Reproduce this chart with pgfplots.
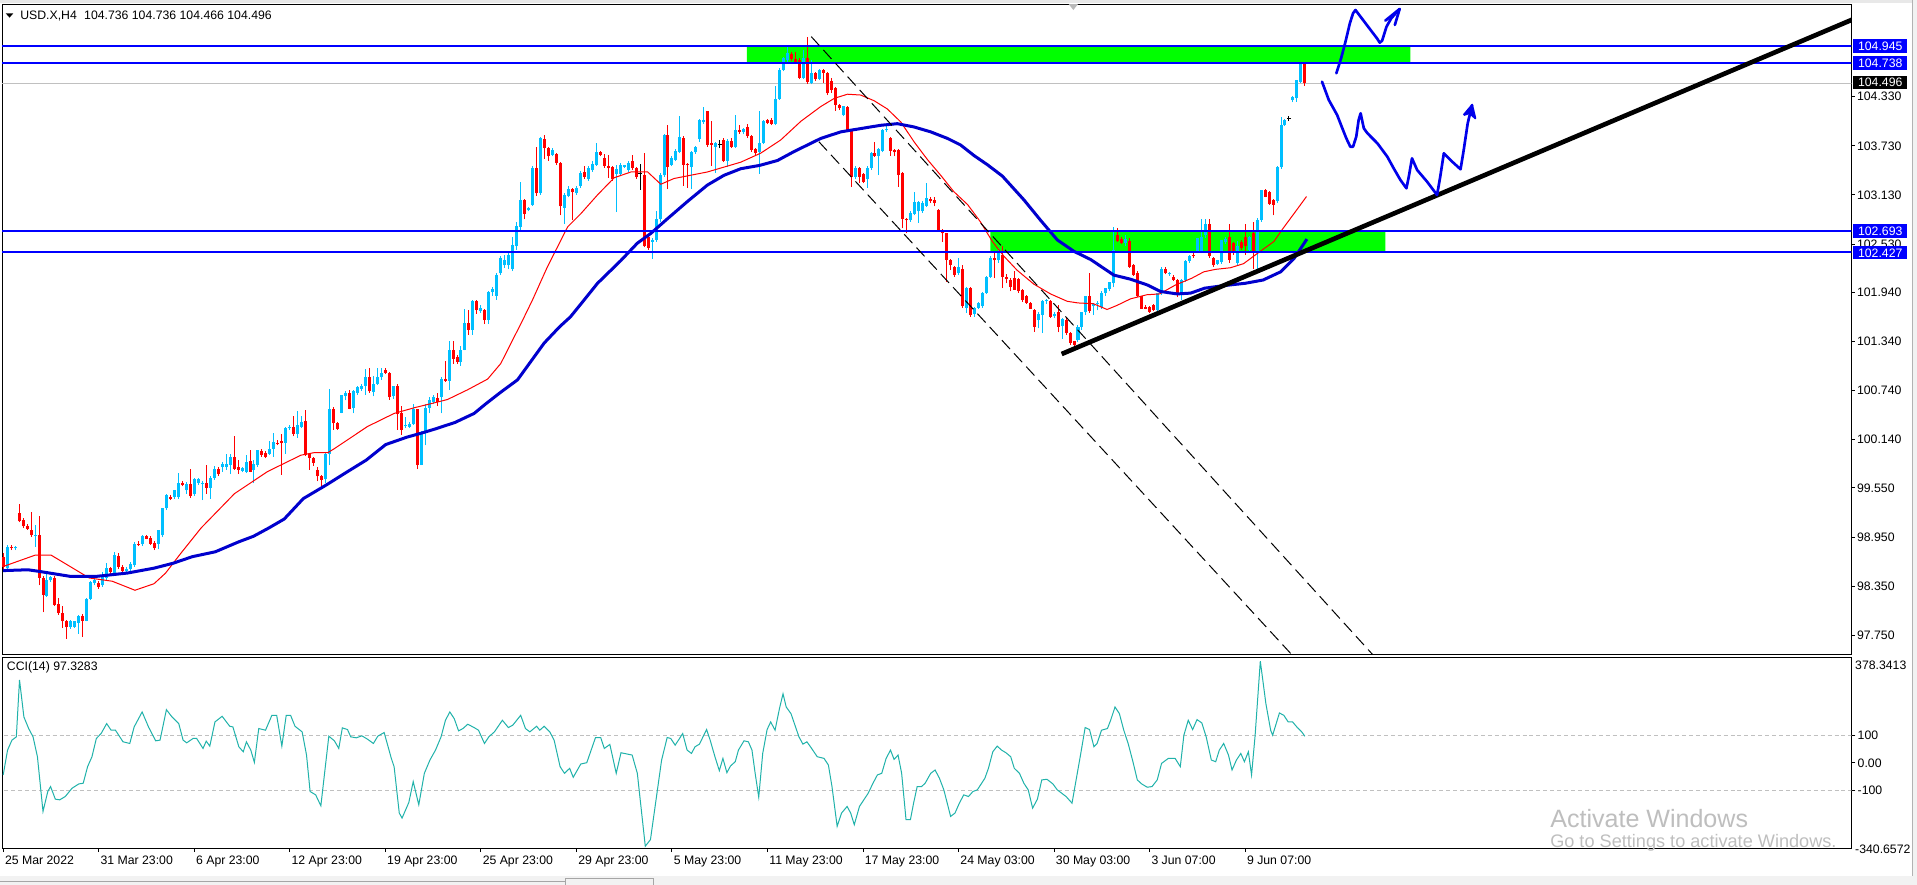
\documentclass[border=0pt]{standalone}
\usepackage{fontspec}
\setmainfont{Liberation Sans}
\usepackage{pgfplots}
\usepackage{pgfplotstable}
\pgfplotsset{compat=1.18}
\definecolor{upc}{RGB}{0,191,255}
\definecolor{dnc}{RGB}{255,0,0}
\definecolor{mablue}{RGB}{0,0,205}
\definecolor{hblue}{RGB}{0,0,255}
\definecolor{zone}{RGB}{0,255,0}
\definecolor{ccic}{RGB}{32,178,170}
\definecolor{lgray}{RGB}{192,192,192}
\definecolor{arrb}{RGB}{0,0,235}
\definecolor{wm}{RGB}{190,190,190}
\newcommand\axf{\fontsize{9.2}{11}\selectfont}

\pgfplotstableread{
i o h l c
0 98.71 98.75 98.55 98.59
1 98.57 98.85 98.55 98.83
2 98.83 98.85 98.79 98.82
3 98.81 98.84 98.79 98.83
4 99.24 99.35 99.13 99.14
5 99.16 99.18 99.06 99.08
6 99.08 99.11 99.04 99.05
7 99.04 99.26 98.95 98.97
8 98.97 99.10 98.83 98.98
9 98.97 99.21 98.36 98.45
10 98.45 98.47 98.03 98.24
11 98.23 98.54 98.22 98.42
12 98.42 98.47 98.40 98.46
13 98.45 98.47 98.11 98.12
14 98.13 98.20 98.00 98.02
15 98.02 98.11 97.84 97.92
16 97.92 97.94 97.71 97.85
17 97.85 97.94 97.83 97.92
18 97.85 97.93 97.84 97.92
19 97.90 98.00 97.77 97.98
20 97.98 98.01 97.73 97.93
21 97.93 98.21 97.92 98.19
22 98.19 98.41 98.18 98.40
23 98.39 98.45 98.36 98.43
24 98.39 98.41 98.32 98.34
25 98.36 98.52 98.34 98.49
26 98.45 98.63 98.43 98.57
27 98.57 98.59 98.49 98.52
28 98.51 98.77 98.49 98.73
29 98.72 98.75 98.56 98.59
30 98.59 98.61 98.50 98.53
31 98.53 98.58 98.51 98.56
32 98.56 98.64 98.54 98.62
33 98.61 98.89 98.59 98.87
34 98.87 98.90 98.84 98.85
35 98.86 98.98 98.84 98.96
36 98.96 98.98 98.92 98.93
37 98.94 98.96 98.85 98.87
38 98.88 98.90 98.79 98.81
39 98.87 99.04 98.80 99.03
40 98.97 99.31 98.95 99.30
41 99.30 99.47 99.28 99.46
42 99.44 99.46 99.40 99.42
43 99.44 99.53 99.42 99.52
44 99.44 99.73 99.42 99.61
45 99.61 99.63 99.57 99.59
46 99.52 99.62 99.48 99.60
47 99.60 99.78 99.43 99.45
48 99.47 99.67 99.45 99.66
49 99.61 99.67 99.59 99.66
50 99.60 99.63 99.40 99.61
51 99.61 99.83 99.48 99.55
52 99.55 99.70 99.42 99.67
53 99.67 99.82 99.65 99.78
54 99.78 99.80 99.70 99.72
55 99.81 99.87 99.75 99.84
56 99.81 99.97 99.77 99.84
57 99.83 99.97 99.72 99.93
58 99.93 100.18 99.77 99.78
59 99.80 99.89 99.72 99.77
60 99.76 99.81 99.74 99.79
61 99.75 99.95 99.73 99.87
62 99.88 100.01 99.74 99.75
63 99.77 99.89 99.61 99.84
64 99.83 100.01 99.81 100.01
65 100.00 100.03 99.93 99.95
66 99.98 100.00 99.91 99.93
67 99.97 100.12 99.95 100.03
68 100.03 100.22 99.93 100.11
69 100.10 100.14 100.07 100.09
70 100.12 100.21 99.71 100.10
71 100.10 100.30 99.97 100.28
72 100.28 100.32 100.26 100.30
73 100.30 100.43 100.18 100.21
74 100.21 100.49 100.16 100.32
75 100.30 100.43 100.28 100.36
76 100.37 100.50 99.94 99.95
77 99.96 99.97 99.77 99.92
78 99.92 99.93 99.82 99.86
79 99.77 99.81 99.63 99.69
80 99.70 99.71 99.57 99.65
81 99.66 99.99 99.61 99.97
82 99.97 100.76 99.83 100.52
83 100.52 100.54 100.26 100.34
84 100.34 100.36 100.26 100.27
85 100.47 100.69 100.46 100.68
86 100.67 100.73 100.62 100.71
87 100.71 100.75 100.51 100.52
88 100.53 100.75 100.46 100.73
89 100.71 100.80 100.69 100.78
90 100.76 100.82 100.74 100.80
91 100.80 101.00 100.69 100.90
92 100.90 101.01 100.71 100.73
93 100.72 100.92 100.67 100.82
94 100.82 101.01 100.81 100.91
95 100.90 101.01 100.87 100.96
96 100.99 101.02 100.94 100.96
97 100.96 100.97 100.63 100.66
98 100.67 100.80 100.64 100.79
99 100.79 100.82 100.26 100.45
100 100.46 100.55 100.20 100.26
101 100.31 100.42 100.28 100.32
102 100.30 100.35 100.28 100.33
103 100.33 100.58 100.32 100.52
104 100.51 100.52 99.78 99.83
105 99.83 100.24 99.83 100.22
106 100.22 100.58 100.07 100.53
107 100.53 100.66 100.46 100.62
108 100.60 100.68 100.58 100.66
109 100.65 100.71 100.55 100.60
110 100.66 100.91 100.46 100.88
111 100.88 101.10 100.85 100.86
112 100.86 101.34 100.75 101.24
113 101.24 101.34 101.07 101.13
114 101.15 101.17 101.07 101.09
115 101.09 101.28 101.04 101.24
116 101.24 101.73 101.23 101.56
117 101.56 101.72 101.42 101.48
118 101.48 101.85 101.42 101.83
119 101.83 101.85 101.68 101.72
120 101.71 101.78 101.69 101.75
121 101.72 101.73 101.55 101.60
122 101.60 101.96 101.55 101.94
123 101.94 102.00 101.90 101.98
124 101.90 102.18 101.85 102.15
125 102.17 102.38 102.15 102.36
126 102.27 102.40 102.24 102.34
127 102.27 102.43 102.22 102.40
128 102.23 102.62 102.20 102.52
129 102.50 102.80 102.46 102.75
130 102.74 103.29 102.70 103.07
131 103.07 103.08 102.83 102.90
132 102.94 102.98 102.93 102.97
133 103.01 103.48 103.00 103.46
134 103.46 103.72 103.12 103.15
135 103.15 103.84 103.13 103.82
136 103.81 103.86 103.57 103.70
137 103.70 103.71 103.55 103.60
138 103.62 103.70 103.60 103.68
139 103.63 103.64 103.50 103.52
140 103.52 103.53 102.88 102.99
141 102.97 103.15 102.78 103.13
142 103.12 103.24 103.10 103.20
143 103.20 103.22 102.82 103.16
144 103.15 103.24 103.13 103.22
145 103.24 103.42 103.22 103.40
146 103.41 103.48 103.33 103.35
147 103.33 103.48 103.30 103.46
148 103.43 103.54 103.41 103.51
149 103.50 103.76 103.48 103.66
150 103.65 103.67 103.60 103.62
151 103.58 103.63 103.46 103.48
152 103.48 103.62 103.34 103.46
153 103.47 103.48 103.30 103.33
154 103.39 103.50 102.92 103.45
155 103.39 103.52 103.37 103.50
156 103.47 103.50 103.46 103.49
157 103.43 103.55 103.41 103.52
158 103.54 103.62 103.44 103.46
159 103.46 103.47 103.33 103.35
160 103.39 103.51 103.19 103.39
161 103.37 103.64 102.49 102.50
162 102.62 102.64 102.46 102.48
163 102.56 102.60 102.35 102.58
164 102.58 102.93 102.56 102.83
165 102.83 103.40 102.80 103.37
166 103.37 103.88 103.35 103.86
167 103.86 103.98 103.20 103.47
168 103.50 103.60 103.48 103.58
169 103.56 103.69 103.54 103.67
170 103.66 104.09 103.64 103.84
171 103.83 103.85 103.24 103.50
172 103.51 103.52 103.22 103.49
173 103.47 103.67 103.20 103.65
174 103.65 103.73 103.63 103.71
175 103.81 104.06 103.78 104.04
176 104.02 104.20 104.00 104.05
177 104.15 104.16 103.72 103.74
178 103.77 104.03 103.48 103.74
179 103.72 103.78 103.40 103.76
180 103.74 103.80 103.70 103.74
181 103.80 103.82 103.53 103.55
182 103.55 103.81 103.47 103.79
183 103.79 103.82 103.70 103.72
184 103.72 104.10 103.70 103.92
185 103.92 103.98 103.88 103.90
186 103.90 103.95 103.87 103.93
187 103.96 103.99 103.83 103.85
188 103.85 103.86 103.66 103.68
189 103.69 103.70 103.62 103.64
190 103.66 104.16 103.39 103.77
191 103.77 104.05 103.75 104.03
192 104.05 104.06 103.99 104.01
193 104.05 104.07 103.98 104.00
194 104.00 104.46 103.98 104.30
195 104.30 104.68 104.29 104.66
196 104.66 104.82 104.64 104.80
197 104.78 104.95 104.75 104.86
198 104.85 104.88 104.77 104.79
199 104.79 104.88 104.73 104.75
200 104.78 104.80 104.54 104.56
201 104.56 104.90 104.54 104.80
202 104.80 105.06 104.49 104.51
203 104.50 104.78 104.48 104.62
204 104.62 104.63 104.52 104.54
205 104.55 104.67 104.53 104.66
206 104.66 104.67 104.50 104.62
207 104.62 104.63 104.35 104.37
208 104.52 104.56 104.38 104.41
209 104.43 104.45 104.16 104.23
210 104.23 104.24 104.17 104.19
211 104.11 104.22 104.09 104.21
212 104.20 104.21 103.90 103.92
213 103.92 103.93 103.23 103.35
214 103.35 103.48 103.32 103.46
215 103.46 103.47 103.28 103.35
216 103.39 103.40 103.27 103.29
217 103.33 103.48 103.22 103.46
218 103.46 103.66 103.44 103.64
219 103.64 103.78 103.59 103.61
220 103.61 103.70 103.37 103.69
221 103.67 103.93 103.65 103.92
222 103.92 103.97 103.90 103.94
223 103.83 103.84 103.61 103.67
224 103.68 103.69 103.60 103.65
225 103.68 103.69 103.23 103.37
226 103.40 103.41 102.72 102.84
227 102.84 102.85 102.66 102.82
228 102.82 102.93 102.80 102.91
229 102.90 103.16 102.88 103.04
230 102.93 103.05 102.79 103.04
231 102.93 103.05 102.91 103.03
232 103.00 103.28 102.98 103.09
233 103.08 103.10 103.03 103.05
234 103.07 103.11 102.99 103.03
235 102.95 102.96 102.68 102.70
236 102.70 102.71 102.56 102.66
237 102.66 102.67 102.07 102.34
238 102.34 102.35 102.21 102.27
239 102.25 102.26 102.13 102.15
240 102.17 102.36 102.15 102.25
241 102.22 102.27 101.75 101.77
242 101.75 102.01 101.69 101.99
243 101.99 102.00 101.64 101.66
244 101.68 101.76 101.64 101.75
245 101.75 101.82 101.74 101.81
246 101.77 101.94 101.75 101.93
247 101.93 102.14 101.92 102.13
248 102.13 102.38 102.12 102.36
249 102.36 102.42 102.11 102.33
250 102.33 102.48 102.30 102.44
251 102.40 102.50 101.99 102.13
252 102.13 102.16 102.05 102.10
253 102.09 102.12 101.95 102.01
254 102.11 102.20 101.97 101.97
255 102.10 102.12 101.93 101.95
256 101.97 101.98 101.82 101.85
257 101.90 101.91 101.80 101.81
258 101.81 101.82 101.74 101.74
259 101.72 101.73 101.46 101.52
260 101.60 101.70 101.50 101.68
261 101.66 101.84 101.44 101.83
262 101.83 101.86 101.80 101.84
263 101.83 101.85 101.63 101.64
264 101.65 101.70 101.62 101.67
265 101.70 101.78 101.45 101.52
266 101.53 101.62 101.37 101.61
267 101.60 101.63 101.42 101.44
268 101.44 101.45 101.30 101.32
269 101.34 101.35 101.27 101.30
270 101.36 101.54 101.33 101.52
271 101.52 101.70 101.48 101.70
272 101.70 101.89 101.66 101.89
273 101.89 102.18 101.69 101.71
274 101.77 101.81 101.66 101.80
275 101.80 101.83 101.72 101.81
276 101.76 101.95 101.74 101.93
277 101.93 101.99 101.90 101.99
278 101.98 102.07 101.95 102.06
279 102.05 102.74 102.00 102.46
280 102.64 102.73 102.56 102.57
281 102.59 102.61 102.53 102.54
282 102.54 102.64 102.50 102.59
283 102.57 102.60 102.24 102.25
284 102.27 102.28 102.14 102.15
285 102.18 102.20 101.88 101.89
286 101.89 101.90 101.74 101.74
287 101.76 101.78 101.73 101.74
288 101.76 101.77 101.69 101.70
289 101.79 101.80 101.71 101.72
290 101.72 101.93 101.70 101.93
291 101.93 102.25 101.91 102.23
292 102.22 102.25 102.16 102.17
293 102.16 102.19 102.14 102.18
294 102.13 102.15 102.08 102.09
295 102.09 102.10 101.88 101.93
296 101.93 102.10 101.85 102.09
297 102.09 102.34 102.07 102.32
298 102.32 102.40 102.30 102.38
299 102.40 102.43 102.36 102.38
300 102.44 102.60 102.42 102.60
301 102.44 102.83 102.42 102.62
302 102.64 102.83 102.60 102.78
303 102.78 102.83 102.36 102.38
304 102.36 102.37 102.25 102.27
305 102.29 102.33 102.27 102.33
306 102.31 102.58 102.29 102.58
307 102.55 102.61 102.53 102.59
308 102.62 102.78 102.30 102.34
309 102.54 102.56 102.40 102.42
310 102.30 102.57 102.27 102.50
311 102.56 102.58 102.46 102.48
312 102.62 102.78 102.40 102.50
313 102.46 102.63 102.43 102.61
314 102.66 102.80 102.23 102.44
315 102.44 102.85 102.23 102.82
316 102.82 103.19 102.80 103.19
317 103.19 103.20 103.10 103.11
318 103.16 103.18 103.01 103.02
319 103.07 103.08 102.88 103.01
320 103.05 103.48 103.03 103.47
321 103.47 104.08 103.45 103.98
322 103.98 104.06 103.97 104.04
323 104.06 104.09 104.03 104.06
324 104.29 104.34 104.26 104.33
325 104.31 104.53 104.27 104.53
326 104.51 104.75 104.50 104.745
327 104.736 104.736 104.466 104.496
}\candles

\begin{document}
\begin{tikzpicture}
\path[use as bounding box, fill=white] (0,0) rectangle (1437.75pt,-663.75pt);
% window chrome
\fill[gray!18] (0,0) rectangle (1437.75pt,-2.2pt);
\fill[gray!10] (1434pt,0) rectangle (1437.75pt,-663.75pt);
\draw[gray!60, line width=0.75pt] (1434.4pt,0) -- (1434.4pt,-657pt);
\fill[gray!10] (0,-657pt) rectangle (1437.75pt,-663.75pt);
\draw[gray!70, line width=0.75pt] (0,-661.3pt) -- (424pt,-661.3pt);
\draw[gray!70, line width=0.75pt] (424pt,-663.75pt) -- (424pt,-659pt) -- (490pt,-659pt) -- (490pt,-663.75pt);

\begin{axis}[
  at={(1.5pt,-490.5pt)}, anchor=south west,
  width=1387.1pt, height=486.75pt, scale only axis,
  xmin=-0.3, xmax=464.3, ymin=97.521, ymax=105.450,
  xtick=\empty,
  ytick={97.75,98.35,98.95,99.55,100.14,100.74,101.34,101.94,102.53,103.13,103.73,104.33},
  yticklabels={97.750,98.350,98.950,99.550,100.140,100.740,101.340,101.940,102.530,103.130,103.730,104.330},
  ytick pos=right, yticklabel pos=right,
  tick align=outside, major tick length=2.5pt,
  tick style={black, line width=0.75pt},
  yticklabel style={font=\axf, anchor=west, inner sep=0pt, xshift=1.5pt},
  axis line style={black, line width=0.75pt},
  scaled y ticks=false,
]
% zones
\addplot[fill=zone, draw=none] coordinates {(186.8,104.738) (353.5,104.738) (353.5,104.945) (186.8,104.945) (186.8,104.738)};
\addplot[fill=zone, draw=none] coordinates {(248.0,102.427) (347.2,102.427) (347.2,102.693) (248.0,102.693) (248.0,102.427)};
% bid line
\addplot[lgray, line width=0.75pt] coordinates {(-5,104.496) (470,104.496)};

% candles: up
\addplot[draw=none, mark=none, forget plot,
  restrict expr to domain={\thisrow{c}-\thisrow{o}}{0.00001:100},
  error bars/.cd, y dir=plus, y explicit, error mark=none,
  error bar style={draw=upc, line width=0.75pt}]
  table[x=i, y=l, y error plus expr={\thisrow{h}-\thisrow{l}}] {\candles};
\addplot[draw=none, mark=none, forget plot,
  restrict expr to domain={\thisrow{c}-\thisrow{o}}{0.00001:100},
  error bars/.cd, y dir=plus, y explicit, error mark=none,
  error bar style={draw=upc, line width=2.25pt}]
  table[x=i, y=o, y error plus expr={\thisrow{c}-\thisrow{o}}] {\candles};
% candles: down
\addplot[draw=none, mark=none, forget plot,
  restrict expr to domain={\thisrow{c}-\thisrow{o}}{-100:-0.00001},
  error bars/.cd, y dir=plus, y explicit, error mark=none,
  error bar style={draw=dnc, line width=0.75pt}]
  table[x=i, y=l, y error plus expr={\thisrow{h}-\thisrow{l}}] {\candles};
\addplot[draw=none, mark=none, forget plot,
  restrict expr to domain={\thisrow{c}-\thisrow{o}}{-100:-0.00001},
  error bars/.cd, y dir=plus, y explicit, error mark=none,
  error bar style={draw=dnc, line width=2.25pt}]
  table[x=i, y=c, y error plus expr={\thisrow{o}-\thisrow{c}}] {\candles};
% doji
\addplot[draw=none, mark=none, forget plot,
  restrict expr to domain={\thisrow{c}-\thisrow{o}}{-0.000001:0.000001},
  error bars/.cd, y dir=plus, y explicit, error mark=none,
  error bar style={draw=black, line width=0.75pt}]
  table[x=i, y=l, y error plus expr={\thisrow{h}-\thisrow{l}}] {\candles};
\addplot[only marks, mark=-, mark size=1.6pt, mark options={black, line width=0.75pt}, forget plot,
  restrict expr to domain={\thisrow{c}-\thisrow{o}}{-0.000001:0.000001}]
  table[x=i, y=o] {\candles};

% red MA
\addplot[dnc, line width=0.75pt] coordinates {
(0,98.59) (8.1,98.73) (12,98.73) (21.6,98.45) (27.4,98.41) (33.1,98.30) (37.9,98.38) (40.8,98.51) (44.6,98.75) (49.7,99.06) (58.1,99.48) (66.4,99.75) (74.8,99.95) (78,99.98) (81.5,99.98) (83.2,100.03) (91.5,100.30) (98.2,100.46) (103.3,100.53) (107.5,100.58) (111.6,100.63) (116.7,100.75) (121.7,100.88) (125,101.07) (130.5,101.60) (133,101.85) (136.7,102.25) (141.8,102.74) (145.1,102.90) (149.3,103.13) (153.5,103.34) (157.7,103.41) (161.9,103.41) (165.2,103.26) (168.5,103.33) (172.7,103.37) (176.9,103.41) (181.1,103.47) (185.3,103.53) (190.3,103.64) (195.3,103.80) (200.4,104.03) (205.4,104.21) (208.8,104.31) (212.1,104.36) (215.4,104.35) (218.8,104.28) (222.1,104.18) (225.5,104.02) (228.8,103.78) (232.2,103.56) (235.5,103.37) (238.8,103.17) (242.3,103.01) (245.5,102.80) (248.5,102.56) (251.4,102.38) (254.7,102.21) (258.9,102.04) (263.1,101.92) (267.3,101.83) (270,101.81) (273.9,101.80) (277.3,101.73) (279.8,101.78) (283.2,101.86) (287.3,101.91) (290.5,101.92) (294.5,102.03) (298.5,102.11) (301.6,102.19) (304.5,102.22) (308.3,102.24) (311.6,102.29) (315.2,102.42) (319.2,102.56) (321.5,102.72) (325,102.95) (327.4,103.11)};
% blue MA
\addplot[mablue, line width=2.25pt] coordinates {
(0,98.54) (6.2,98.55) (9.1,98.53) (16.8,98.47) (23.5,98.47) (31.2,98.51) (37.9,98.57) (42.7,98.63) (47.5,98.71) (53.3,98.77) (59.1,98.89) (62.9,98.96) (66.7,99.06) (70.6,99.17) (75.4,99.42) (81.3,99.59) (86.2,99.74) (91.2,99.89) (96.1,100.08) (101.4,100.17) (105.1,100.22) (108.5,100.27) (113.5,100.35) (118.3,100.46) (121.3,100.58) (125,100.72) (129.2,100.87) (135.9,101.32) (139.8,101.52) (142.5,101.64) (145.5,101.82) (149.3,102.05) (155.2,102.33) (159.3,102.54) (162.7,102.66) (166.9,102.84) (171.9,103.05) (176.9,103.25) (181.1,103.37) (185.3,103.45) (190,103.49) (194.5,103.55) (198.7,103.66) (205.4,103.82) (210.4,103.90) (215.4,103.94) (220.4,103.98) (224.6,104.00) (228.8,103.96) (233,103.90) (237.2,103.82) (240.5,103.74) (243.9,103.61) (247.2,103.50) (251,103.36) (256.4,103.07) (260.6,102.82) (264.8,102.58) (269,102.44) (273.2,102.34) (279,102.15) (283.2,102.10) (287.4,102.03) (290.7,101.95) (294.9,101.92) (298.3,101.93) (301.8,101.99) (306.3,102.02) (312,102.05) (316.5,102.09) (320.9,102.19) (324.3,102.355) (327.5,102.59)};

% horizontal levels
\addplot[hblue, line width=1.5pt] coordinates {(-5,104.945) (470,104.945)};
\addplot[hblue, line width=1.5pt] coordinates {(-5,104.738) (470,104.738)};
\addplot[hblue, line width=1.5pt] coordinates {(-5,102.693) (470,102.693)};
\addplot[hblue, line width=1.5pt] coordinates {(-5,102.427) (470,102.427)};

% channel lines
\addplot[black, line width=0.75pt, dash pattern=on 9pt off 4.5pt] coordinates {(203.0,105.063) (350,97.194)};
\addplot[black, line width=0.75pt, dash pattern=on 9pt off 4.5pt] coordinates {(204.9,103.780) (330,97.181)};
% trend line
\addplot[black, line width=3.5pt] coordinates {(265.9,101.186) (466,105.302)};

% hand drawn arrows
\addplot[arrb, line width=2pt, line join=round, line cap=round] coordinates {
(334.9,104.616) (336.1,104.799) (337.2,105.002) (338.3,105.227) (339.1,105.349) (339.7,105.389) (341.6,105.267) (343.5,105.145) (345.1,105.043) (345.8,104.990) (346.4,105.014) (347.5,105.185) (348.7,105.288) (350.8,105.401)};
\addplot[arrb, line width=2pt, line join=round, line cap=round] coordinates {(347.2,105.259) (350.8,105.401) (349.6,105.206)};
\addplot[arrb, line width=2pt, line join=round, line cap=round] coordinates {
(331.3,104.513) (333.0,104.290) (335.1,104.106) (336.4,103.944) (337.4,103.822) (338.4,103.719) (339.1,103.719) (339.9,103.841) (340.5,104.045) (341.0,104.127) (341.8,103.944) (342.7,103.883) (345.2,103.761) (347.7,103.597) (349.3,103.455) (351.0,103.312) (352.5,103.211) (353.1,103.352) (353.9,103.577) (355.2,103.434) (357.7,103.291) (360.2,103.129) (361.0,103.352) (361.9,103.638) (364.0,103.536) (366.1,103.443) (366.9,103.679) (367.9,104.005) (369.0,104.228)};
\addplot[arrb, fill=arrb, line width=1.5pt, line join=round] coordinates {(366.9,104.106) (369.0,104.228) (369.8,104.066) (368.4,104.13) (366.9,104.106)};
\end{axis}

% chart shift marker
\fill[gray!55] (801.5pt,-3pt) -- (808.5pt,-3pt) -- (805pt,-7.5pt) -- cycle;

% header
\fill[black] (4.3pt,-10pt) -- (10pt,-10pt) -- (7.15pt,-13.2pt) -- cycle;
\node[anchor=west, font=\axf, inner sep=0pt] at (15pt,-11.8pt) {USD.X,H4\hspace{0.6em}104.736 104.736 104.466 104.496};

% price boxes
\node[fill=hblue, text=white, anchor=west, font=\axf, inner xsep=3.6pt, inner ysep=0pt, minimum height=10pt] at (1389.75pt,-34.6pt) {104.945};
\node[fill=hblue, text=white, anchor=west, font=\axf, inner xsep=3.6pt, inner ysep=0pt, minimum height=10pt] at (1389.75pt,-47.2pt) {104.738};
\node[fill=black, text=white, anchor=west, font=\axf, inner xsep=3.6pt, inner ysep=0pt, minimum height=10pt] at (1389.75pt,-61.8pt) {104.496};
\node[fill=hblue, text=white, anchor=west, font=\axf, inner xsep=3.6pt, inner ysep=0pt, minimum height=10pt] at (1389.75pt,-173.2pt) {102.693};
\node[fill=hblue, text=white, anchor=west, font=\axf, inner xsep=3.6pt, inner ysep=0pt, minimum height=10pt] at (1389.75pt,-189.6pt) {102.427};

\begin{axis}[
  at={(1.5pt,-636pt)}, anchor=south west,
  width=1387.1pt, height=143.25pt, scale only axis,
  xmin=-0.3, xmax=464.3, ymin=-311.3, ymax=387,
  xtick={0,24,...,312},
  xticklabels={25 Mar 2022,31 Mar 23:00,6 Apr 23:00,12 Apr 23:00,19 Apr 23:00,25 Apr 23:00,29 Apr 23:00,5 May 23:00,11 May 23:00,17 May 23:00,24 May 03:00,30 May 03:00,3 Jun 07:00,9 Jun 07:00},
  ytick={-100,0,100}, yticklabels={-100,0.00,100},
  xtick pos=lower, ytick pos=right, yticklabel pos=right,
  tick align=outside, major tick length=3pt,
  tick style={black, line width=0.75pt},
  xticklabel style={font=\axf, anchor=north west, inner sep=0pt, xshift=1.2pt, yshift=-3pt},
  yticklabel style={font=\axf, anchor=west, inner sep=0pt, xshift=1.5pt},
  axis line style={black, line width=0.75pt},
]
\addplot[lgray, line width=0.75pt, dash pattern=on 3pt off 2.2pt] coordinates {(-5,100) (470,100)};
\addplot[lgray, line width=0.75pt, dash pattern=on 3pt off 2.2pt] coordinates {(-5,-100) (470,-100)};
\addplot[ccic, line width=0.75pt] coordinates {
(0,-44.2) (1.1,46.7) (2.2,83.0) (3.3,95.2) (4.1,303.6) (5.2,167.9) (6.4,125.5) (7.5,95.2) (8.6,22.4) (10,-177.6) (11.2,-104.8) (11.9,-86.7) (13.1,-132.7) (14.2,-135.2) (15.6,-123.0) (17.3,-92.7) (19,-77.0) (20.1,-74.5) (21.2,-13.9) (22.3,22.4) (23.4,89.1) (24.6,107.3) (26,143.6) (27.1,119.4) (28.2,119.4) (30.1,77.0) (31.8,70.9) (32.9,131.5) (34.9,186.1) (36.5,131.5) (38.3,80.6) (39.4,83.0) (41,194.5) (42.4,167.9) (44.1,143.6) (45.2,83.0) (46.1,73.3) (47.7,89.1) (48.6,89.1) (50.2,52.7) (51,79.4) (51.9,61.2) (53.2,149.7) (55,170.3) (56.9,133.9) (57.7,131.5) (59.2,58.8) (60.3,40.6) (61.1,77.0) (62.2,46.7) (63.1,1.8) (64.2,125.5) (65.9,119.4) (67.5,173.9) (68.7,173.9) (70,61.2) (71.1,173.9) (72.2,173.9) (73.3,133.9) (75.1,113.3) (76.2,28.5) (77.1,-104.8) (78.5,-117.0) (79.8,-157.0) (81.8,97.6) (83.2,80.6) (84.3,52.7) (85.2,127.9) (86.5,121.8) (87.3,95.2) (88.7,91.5) (90.1,98.8) (91.5,86.7) (93,70.9) (94.1,97.6) (95.7,110.9) (97.5,16.4) (98.2,-13.9) (99.5,-183.6) (100.2,-201.8) (101.9,-144.8) (103,-68.5) (104.4,-153.3) (105.8,-38.2) (107.2,10.3) (108.6,46.7) (110,95.2) (111.1,155.8) (112.2,186.1) (113.3,161.8) (114.4,117.0) (115.5,125.5) (116.7,141.2) (118.3,129.1) (119.4,119.4) (120.9,70.9) (122,95.2) (123.4,113.3) (125.4,155.8) (126.9,129.1) (128,137.6) (130,173.9) (131.2,125.5) (132.3,113.3) (134,133.9) (134.8,119.4) (135.9,133.9) (137.3,113.3) (138.4,83.0) (139.9,-13.9) (141,-38.2) (142.3,-20.0) (143.2,-52.7) (145.1,-4.2) (146.6,0.6) (148.8,92.7) (150.1,92.7) (151,52.7) (152.4,67.3) (154,-38.2) (155.2,37.0) (158,28.5) (159.3,-38.2) (161.3,-304.8) (162.6,-280.6) (164,-135.2) (165.4,10.3) (166.8,92.7) (167.7,89.1) (168.8,64.8) (169.9,89.1) (170.7,107.3) (171.8,46.7) (172.9,34.5) (173.8,58.8) (174.9,68.5) (175.8,95.2) (176.7,121.8) (177.6,83.0) (178.8,22.4) (179.9,-28.5) (180.8,16.4) (181.8,-35.8) (182.7,-11.5) (183.9,4.2) (184.7,46.7) (186.1,80.6) (187.2,77.0) (188.1,46.7) (188.9,-38.2) (189.8,-125.5) (190.8,34.5) (191.9,121.8) (192.8,149.7) (193.9,119.4) (195,198.2) (195.9,252.7) (196.7,204.2) (197.9,180.0) (198.9,137.6) (199.9,95.2) (200.9,68.5) (201.9,77.0) (202.8,58.8) (204.5,22.4) (206.2,16.4) (207.3,-7.9) (208.2,-86.7) (209.5,-232.1) (210.6,-183.6) (212,-159.4) (212.9,-183.6) (213.8,-226.1) (215.1,-159.4) (216.2,-135.2) (217.3,-110.9) (218.5,-74.5) (219.6,-44.2) (220.7,-38.2) (221.8,16.4) (222.9,46.7) (223.8,12.7) (224.8,28.5) (225.7,-38.2) (226.8,-207.9) (227.9,-207.9) (228.7,-147.3) (229.6,-86.7) (230.7,-86.7) (231.6,-74.5) (233,-38.2) (234.1,-26.1) (235.2,-56.4) (236.3,-98.8) (238,-195.8) (239.1,-183.6) (240.2,-147.3) (241.3,-117.0) (242.5,-123.0) (243.6,-104.8) (244.7,-98.8) (245.8,-74.5) (246.6,-56.4) (247.5,-20.0) (248.6,40.6) (249.7,61.2) (250.8,46.7) (251.9,37.0) (253.1,22.4) (254,-20.0) (255.3,-38.2) (256.4,-74.5) (257.5,-98.8) (258.6,-165.5) (259.8,-132.7) (260.9,-62.4) (262.2,-60.0) (263.7,-77.0) (264.8,-98.8) (265.9,-110.9) (267,-123.0) (268.5,-147.3) (269.6,-56.4) (270.7,34.5) (271.8,129.1) (272.9,121.8) (274,58.8) (274.8,70.9) (275.9,119.4) (277.4,125.5) (278.2,155.8) (279.3,204.2) (280.4,180.0) (281.5,119.4) (282.6,70.9) (283.8,4.2) (284.9,-62.4) (286,-77.0) (287.4,-89.1) (288.6,-86.7) (289.9,-62.4) (291,-1.8) (292.7,16.4) (294.4,16.4) (295.7,-13.9) (296.6,101.2) (297.7,155.8) (298.8,121.8) (299.9,158.2) (301.1,146.1) (302.2,95.2) (303.5,10.3) (304.6,4.2) (305.5,46.7) (306.6,70.9) (307.8,28.5) (308.7,-26.1) (309.8,10.3) (310.9,34.5) (311.8,4.2) (312.8,40.6) (313.6,-44.2) (314.5,101.2) (315.8,372) (317.2,216.4) (318.4,119.4) (318.9,101.2) (320.6,182.4) (321.7,173.9) (322.8,149.7) (323.9,149.7) (325.1,129.1) (326.2,113.3) (327,97.3)};
\end{axis}

% CCI labels
\node[anchor=west, font=\axf, inner sep=0pt] at (5pt,-500.8pt) {CCI(14) 97.3283};
\node[anchor=west, font=\axf, inner sep=0pt] at (1391.2pt,-499.3pt) {378.3413};
\node[anchor=west, font=\axf, inner sep=0pt] at (1391.2pt,-636.8pt) {-340.6572};

% watermark
\node[anchor=west, inner sep=0pt, text=wm, font=\fontsize{18.8}{22}\selectfont] at (1162.5pt,-614.2pt) {Activate Windows};
\node[anchor=west, inner sep=0pt, text=wm, font=\fontsize{13.6}{16}\selectfont] at (1162.5pt,-632.4pt) {Go to Settings to activate Windows.};
\end{tikzpicture}
\end{document}
